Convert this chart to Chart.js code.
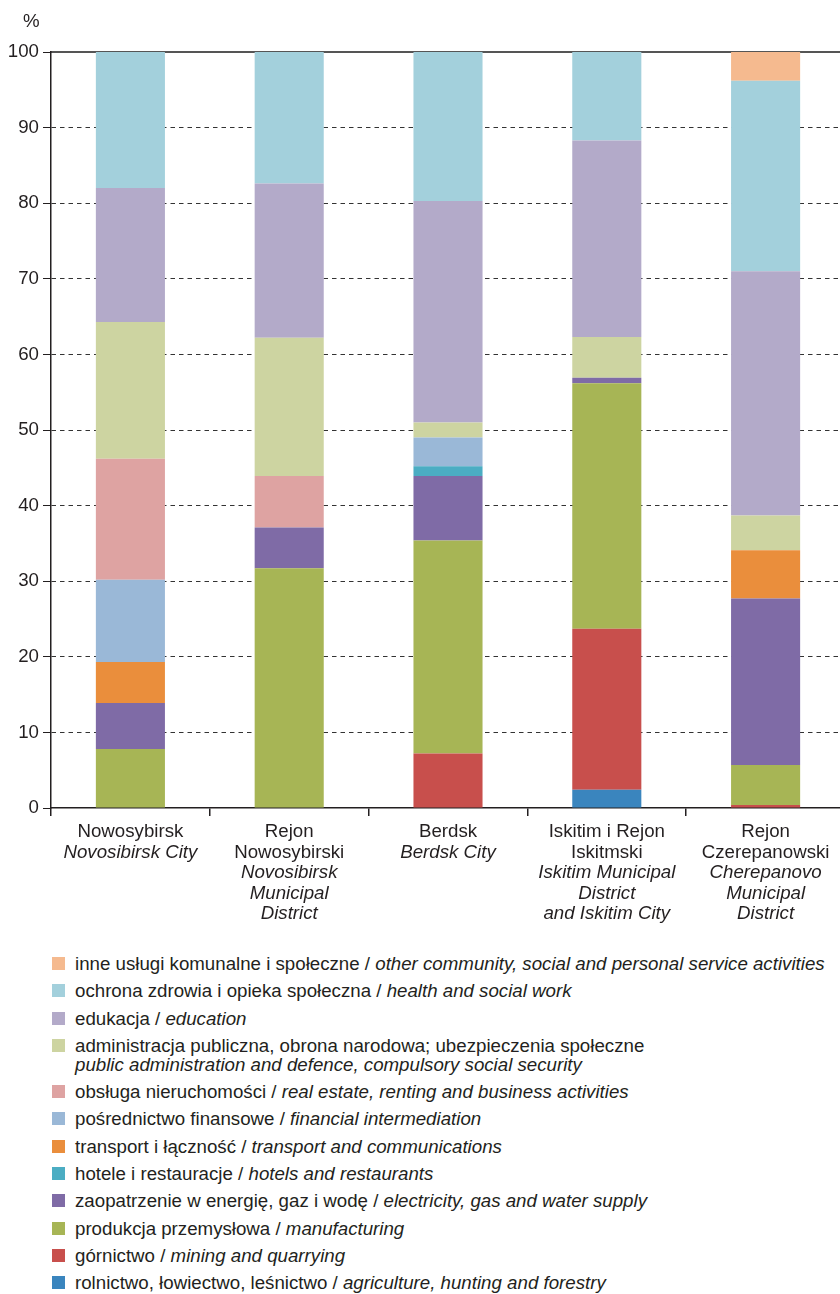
<!DOCTYPE html>
<html><head><meta charset="utf-8">
<script src="https://cdn.jsdelivr.net/npm/chart.js@4/dist/chart.umd.min.js"></script>
<style>
html,body{margin:0;padding:0;background:#fff;overflow:hidden;width:840px;height:1294px;position:relative}
#wrap{position:absolute;left:0;top:0;width:845px;height:940px}
#pct{position:absolute;left:23px;top:10px;font:18.7px "Liberation Sans",Arial,sans-serif;color:#231f20}
#legend{position:absolute;left:52px;top:954px;font:18.7px "Liberation Sans",Arial,sans-serif;color:#231f20}
.li{position:relative;padding-left:23px;line-height:19px;margin-bottom:8.3px;white-space:nowrap}
.sw{position:absolute;left:0;top:3px;width:13px;height:13px}
.li i{font-style:italic}
</style></head>
<body>
<div id="wrap"><canvas id="c"></canvas></div>
<div id="pct">%</div>
<div id="legend"></div>
<script>
const categories = ['Nowosybirsk','Rejon Nowosybirski','Berdsk','Iskitim i Rejon Iskitmski','Rejon Czerepanowski'];
const labelsPL = [['Nowosybirsk'],['Rejon','Nowosybirski'],['Berdsk'],['Iskitim i Rejon','Iskitmski'],['Rejon','Czerepanowski']];
const labelsEN = [['Novosibirsk City'],['Novosibirsk','Municipal','District'],['Berdsk City'],['Iskitim Municipal','District','and Iskitim City'],['Cherepanovo','Municipal','District']];
const yTicks = [0,10,20,30,40,50,60,70,80,90,100];

// series (bottom to top of the stack)
const agriculture   = [0, 0, 0, 2.4, 0];
const mining        = [0, 0, 7.2, 21.3, 0.4];
const manufacturing = [7.8, 31.7, 28.2, 32.5, 5.3];
const electricity   = [6.1, 5.4, 8.5, 0.7, 22.0];
const hotels        = [0, 0, 1.3, 0, 0];
const transport     = [5.4, 0, 0, 0, 6.4];
const financial     = [10.9, 0, 3.8, 0, 0];
const realEstate    = [16.0, 6.8, 0, 0, 0];
const publicAdmin   = [18.1, 18.3, 2.0, 5.4, 4.6];
const education     = [17.7, 20.4, 29.3, 26.0, 32.3];
const health        = [18.0, 17.4, 19.7, 11.7, 25.2];
const other         = [0, 0, 0, 0, 3.8];

const seriesPL = ['rolnictwo, łowiectwo, leśnictwo','górnictwo','produkcja przemysłowa','zaopatrzenie w energię, gaz i wodę','hotele i restauracje','transport i łączność','pośrednictwo finansowe','obsługa nieruchomości','administracja publiczna, obrona narodowa; ubezpieczenia społeczne','edukacja','ochrona zdrowia i opieka społeczna','inne usługi komunalne i społeczne'];
const seriesEN = ['agriculture, hunting and forestry','mining and quarrying','manufacturing','electricity, gas and water supply','hotels and restaurants','transport and communications','financial intermediation','real estate, renting and business activities','public administration and defence, compulsory social security','education','health and social work','other community, social and personal service activities'];
const seriesData = [agriculture, mining, manufacturing, electricity, hotels, transport, financial, realEstate, publicAdmin, education, health, other];
const seriesColors = ['#3a85be','#c84f4c','#a7b555','#7f6ba6','#4badc3','#ea8e3c','#9ab8d7','#dea3a2','#cdd4a1','#b3aac9','#a3d0dc','#f5ba8f'];
const twoLineLegend = [false,false,false,false,false,false,false,false,true,false,false,false];

const FONT = '"Liberation Sans", Arial, sans-serif';
const datasets = seriesData.map((d,i)=>({
  label: seriesPL[i], data: d, backgroundColor: seriesColors[i], borderWidth: 0,
  stack: 's', categoryPercentage: 1, barPercentage: 0.435
}));

const xLabelPlugin = {
  id: 'xlabels',
  afterDraw(chart){
    const ctx = chart.ctx, xs = chart.scales.x, top = chart.chartArea.bottom + 24;
    ctx.save();
    ctx.fillStyle = '#231f20'; ctx.textAlign = 'center'; ctx.textBaseline = 'middle';
    categories.forEach((c,i)=>{
      const cx = xs.getPixelForValue(i);
      let y = top;
      labelsPL[i].forEach(t=>{ ctx.font = '18.7px ' + FONT; ctx.fillText(t, cx, y); y += 20.5; });
      labelsEN[i].forEach(t=>{ ctx.font = 'italic 18.7px ' + FONT; ctx.fillText(t, cx, y); y += 20.5; });
    });
    ctx.restore();
  }
};

new Chart(document.getElementById('c'), {
  type: 'bar',
  data: { labels: categories, datasets },
  plugins: [xLabelPlugin],
  options: {
    responsive: true, maintainAspectRatio: false, animation: false,
    layout: { padding: { top: 52, left: 0, right: 0, bottom: 0 } },
    plugins: { legend: { display: false }, tooltip: { enabled: false } },
    scales: {
      x: {
        stacked: true, offset: true,
        grid: { display: true, drawOnChartArea: false, offset: true, tickLength: 8, color: '#231f20', lineWidth: 1.5 },
        border: { display: true, color: '#231f20', width: 1.5 },
        ticks: { display: false },
        afterFit(s){ s.height = 132; }
      },
      x2: {
        position: 'top', type: 'category', labels: categories, offset: true,
        grid: { display: false, drawTicks: false },
        border: { display: true, color: '#555', width: 2 },
        ticks: { display: false },
        afterFit(s){ s.height = 0; }
      },
      y: {
        stacked: true, min: 0, max: 100,
        afterBuildTicks(s){ s.ticks = yTicks.map(v=>({value:v})); },
        grid: {
          color: c => (c.tick && (c.tick.value === 0 || c.tick.value === 100)) ? 'rgba(0,0,0,0)' : '#333',
          tickColor: '#231f20', tickLength: 8, lineWidth: 1
        },
        border: { display: true, color: '#231f20', width: 1.5, dash: [4.5, 4] },
        ticks: { color: '#231f20', font: { size: 18.7, family: FONT }, padding: 4 },
        afterFit(s){ s.width = 51; }
      }
    }
  }
});

const leg = document.getElementById('legend');
for (let i = seriesData.length - 1; i >= 0; i--) {
  const div = document.createElement('div');
  div.className = 'li';
  const sw = document.createElement('span'); sw.className = 'sw'; sw.style.background = seriesColors[i];
  div.appendChild(sw);
  div.appendChild(document.createTextNode(seriesPL[i] + (twoLineLegend[i] ? '' : ' / ')));
  if (twoLineLegend[i]) div.appendChild(document.createElement('br'));
  const it = document.createElement('i'); it.textContent = seriesEN[i];
  div.appendChild(it);
  leg.appendChild(div);
}
</script>
</body></html>
